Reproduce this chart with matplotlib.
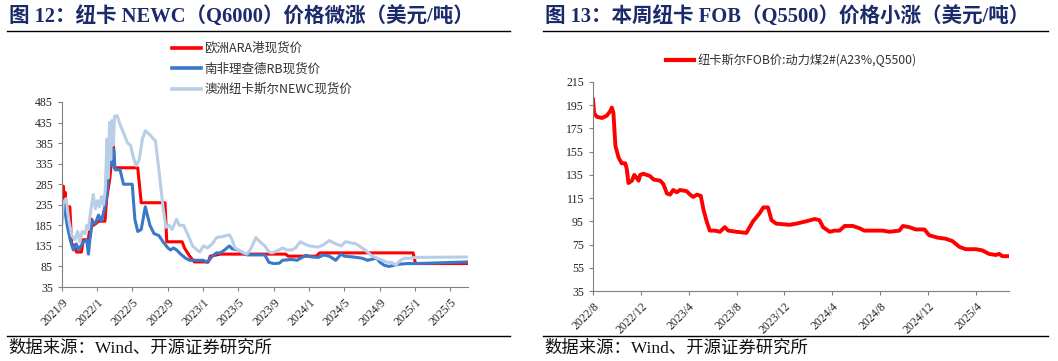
import matplotlib
matplotlib.use("Agg")
import matplotlib.pyplot as plt
import matplotlib.dates as mdates
import pandas as pd
from matplotlib.lines import Line2D

CJK = ['Noto Sans CJK SC', 'DejaVu Sans']
SERIF_CJK = ['Liberation Serif', 'Noto Sans CJK SC', 'DejaVu Sans']
SERIF = ['Liberation Serif', 'DejaVu Serif']
NAVY = '#1B2A6B'

# ---------------- Left chart data ----------------
left_title = "图 12：纽卡 NEWC（Q6000）价格微涨（美元/吨）"
left_labels = ["欧洲ARA港现货价", "南非理查德RB现货价", "澳洲纽卡斯尔NEWC现货价"]
left_colors = ["#FF0000", "#3A78C8", "#B8CDE6"]

ara_dates = ["2021-09-01", "2021-09-06", "2021-09-08", "2021-09-12", "2021-09-15", "2021-09-28",
             "2021-10-04", "2021-10-15", "2021-10-21", "2021-11-07", "2021-11-13", "2021-11-30",
             "2021-12-06", "2021-12-12", "2021-12-18", "2021-12-28", "2022-01-05", "2022-01-27",
             "2022-02-02", "2022-02-13", "2022-02-25", "2022-03-01", "2022-05-20", "2022-06-01",
             "2022-08-22", "2022-08-28", "2022-10-20", "2022-10-28", "2022-11-15", "2022-12-01",
             "2023-01-18", "2023-01-25", "2023-03-01", "2023-10-12", "2023-10-20", "2024-01-25",
             "2024-02-06", "2024-12-24", "2025-01-01", "2025-07-01"]
ara_values = [280, 280, 250, 265, 230, 230,
              140, 135, 120, 120, 150, 150,
              175, 200, 185, 190, 195, 195,
              250, 300, 385, 325, 325, 240,
              240, 145, 145, 130, 110, 96,
              96, 110, 115, 115, 110, 110,
              118, 118, 92, 92]

rb_dates = ["2021-09-01", "2021-09-05", "2021-09-10", "2021-09-20", "2021-10-01", "2021-10-10",
            "2021-10-20", "2021-10-28", "2021-11-05", "2021-11-15", "2021-11-25", "2021-12-01",
            "2021-12-06", "2021-12-15", "2021-12-25", "2022-01-05", "2022-01-15", "2022-01-25",
            "2022-02-01", "2022-02-10", "2022-02-18", "2022-02-22", "2022-02-26", "2022-03-03",
            "2022-03-20", "2022-04-01", "2022-05-01", "2022-05-10", "2022-05-20", "2022-06-01",
            "2022-06-15", "2022-07-01", "2022-07-15", "2022-08-01", "2022-08-15", "2022-09-01",
            "2022-09-10", "2022-09-20", "2022-10-01", "2022-10-15", "2022-11-01", "2022-11-15",
            "2022-12-01", "2023-01-01", "2023-01-15", "2023-02-01", "2023-02-15", "2023-03-01",
            "2023-03-15", "2023-04-01", "2023-04-10", "2023-05-01", "2023-05-15", "2023-06-01",
            "2023-07-01", "2023-08-01", "2023-08-15", "2023-09-01", "2023-09-20", "2023-10-01",
            "2023-11-01", "2023-11-20", "2023-12-10", "2023-12-20", "2024-01-10", "2024-02-01",
            "2024-02-20", "2024-03-10", "2024-04-01", "2024-04-20", "2024-05-01", "2024-06-01",
            "2024-07-01", "2024-07-20", "2024-08-01", "2024-08-20", "2024-09-01", "2024-09-15",
            "2024-10-01", "2024-10-15", "2024-11-01", "2024-12-01", "2025-01-01", "2025-07-01"]
rb_values = [200, 235, 225, 180, 145, 125,
             140, 125, 135, 145, 150, 115,
             150, 195, 190, 210, 195, 225,
             250, 320, 365, 330, 370, 320,
             320, 285, 285, 200, 170, 175,
             230, 185, 165, 160, 145, 130,
             125, 130, 125, 115, 105, 100,
             100, 100, 95, 110, 118, 118,
             125, 135, 128, 125, 118, 113,
             113, 113, 95, 92, 93, 100,
             102, 100, 108, 112, 108, 107,
             113, 110, 100, 115, 110, 108,
             105, 100, 102, 105, 95, 88,
             85, 87, 90, 92, 92, 96]

newc_dates = ["2021-09-01", "2021-09-05", "2021-09-15", "2021-09-25", "2021-10-05", "2021-10-15",
              "2021-10-25", "2021-11-01", "2021-11-10", "2021-11-20", "2021-11-25", "2021-12-01",
              "2021-12-05", "2021-12-12", "2021-12-18", "2021-12-25", "2022-01-01", "2022-01-08",
              "2022-01-15", "2022-01-22", "2022-01-28", "2022-02-03", "2022-02-07", "2022-02-12",
              "2022-02-16", "2022-02-20", "2022-02-25", "2022-03-01", "2022-03-10", "2022-03-20",
              "2022-04-01", "2022-04-15", "2022-04-25", "2022-05-05", "2022-05-15", "2022-05-25",
              "2022-06-05", "2022-06-15", "2022-07-01", "2022-07-20", "2022-08-01", "2022-08-15",
              "2022-08-25", "2022-09-05", "2022-09-15", "2022-10-01", "2022-10-10", "2022-10-25",
              "2022-11-10", "2022-11-25", "2022-12-10", "2022-12-20", "2023-01-01", "2023-01-15",
              "2023-02-01", "2023-02-15", "2023-03-10", "2023-04-01", "2023-04-10", "2023-04-20",
              "2023-05-01", "2023-05-20", "2023-06-01", "2023-06-15", "2023-07-01", "2023-07-15",
              "2023-08-01", "2023-08-15", "2023-08-25", "2023-09-10", "2023-10-01", "2023-10-15",
              "2023-11-01", "2023-11-15", "2023-12-01", "2023-12-15", "2024-01-01", "2024-02-01",
              "2024-02-20", "2024-03-10", "2024-04-01", "2024-04-20", "2024-05-05", "2024-05-20",
              "2024-06-10", "2024-07-01", "2024-07-20", "2024-08-01", "2024-08-20", "2024-09-10",
              "2024-09-25", "2024-10-10", "2024-10-25", "2024-11-10", "2024-11-25", "2024-12-15",
              "2025-01-01", "2025-07-01"]
newc_values = [190, 240, 250, 195, 160, 150,
               170, 145, 170, 165, 185, 175,
               200, 235, 260, 225, 245, 230,
               255, 235, 270, 395, 300, 435,
               345, 440, 380, 450, 452, 430,
               410, 385, 380, 350, 330, 345,
               395, 415, 405, 390, 320, 230,
               180, 185, 175, 200, 185, 185,
               160, 135, 125, 120, 135, 130,
               140, 155, 158, 162, 150, 130,
               125, 118, 115, 130, 155, 145,
               135, 120, 118, 122, 130, 125,
               125, 130, 145, 140, 135, 132,
               138, 148, 140, 135, 145, 143,
               140, 130, 120, 112, 105, 100,
               95, 95, 88, 100, 105, 105,
               107, 108]

left_yticks = [35, 85, 135, 185, 235, 285, 335, 385, 435, 485]

# ---------------- Right chart data ----------------
right_title = "图 13：本周纽卡 FOB（Q5500）价格小涨（美元/吨）"
right_label = "纽卡斯尔FOB价:动力煤2#(A23%,Q5500)"
fob_dates = ["2022-08-01", "2022-08-04", "2022-08-11", "2022-08-24", "2022-09-05", "2022-09-14",
             "2022-09-18", "2022-09-22", "2022-09-27", "2022-10-05", "2022-10-13", "2022-10-22",
             "2022-10-26", "2022-10-30", "2022-11-08", "2022-11-14", "2022-11-21", "2022-11-25",
             "2022-11-29", "2022-12-07", "2022-12-24", "2023-01-02", "2023-01-19", "2023-01-27",
             "2023-02-05", "2023-02-13", "2023-02-21", "2023-03-02", "2023-03-10", "2023-03-27",
             "2023-04-05", "2023-04-13", "2023-04-22", "2023-05-02", "2023-05-09", "2023-05-17",
             "2023-05-25", "2023-06-07", "2023-06-20", "2023-07-02", "2023-07-11", "2023-08-01",
             "2023-08-26", "2023-09-12", "2023-09-29", "2023-10-08", "2023-10-20", "2023-10-29",
             "2023-11-10", "2023-12-14", "2023-12-31", "2024-01-25", "2024-02-16", "2024-02-28",
             "2024-03-08", "2024-03-25", "2024-04-06", "2024-04-19", "2024-05-02", "2024-05-23",
             "2024-06-09", "2024-06-21", "2024-08-07", "2024-08-24", "2024-09-18", "2024-09-27",
             "2024-10-13", "2024-10-30", "2024-11-21", "2024-12-03", "2024-12-24", "2025-01-14",
             "2025-01-31", "2025-02-18", "2025-03-06", "2025-04-01", "2025-04-17", "2025-05-04",
             "2025-05-21", "2025-05-30", "2025-06-07", "2025-06-22"]
fob_values = [200, 188, 185, 184, 186, 190,
              193, 188, 160, 150, 145, 145,
              140, 128, 130, 135, 132, 130,
              135, 136, 134, 131, 130, 127,
              119, 118, 122, 120, 122, 121,
              118, 116, 118, 117, 105, 95,
              87, 87, 86, 90, 87, 86,
              85, 95, 102, 107, 107, 96,
              93, 92, 93, 95, 97, 96,
              90, 86, 87, 87, 91, 91,
              89, 87, 87, 86, 87, 91,
              90, 88, 88, 83, 81, 80,
              78, 73, 71, 71, 70, 67,
              66, 67, 65, 65]
right_yticks = [35, 55, 75, 95, 115, 135, 155, 175, 195, 215]

W, H = 1058, 361
fig = plt.figure(figsize=(W / 100, H / 100), dpi=100)


def fx(px):
    return px / W


def fy(py):
    return 1 - py / H


def style_axes(ax):
    for s in ["top", "right"]:
        ax.spines[s].set_visible(False)
    for s in ["left", "bottom"]:
        ax.spines[s].set_color("#808080")
        ax.spines[s].set_linewidth(0.8)
    ax.tick_params(axis="both", colors="#808080", length=3, width=0.8, direction="out",
                   labelcolor="#222222")
    for lab in ax.get_yticklabels():
        lab.set_fontfamily(SERIF)
        lab.set_fontsize(8.5)
    for lab in ax.get_xticklabels():
        lab.set_fontfamily(SERIF)
        lab.set_fontsize(8.5)
        lab.set_rotation(45)
        lab.set_ha("right")
        lab.set_rotation_mode("anchor")


# ---------------- Left axes ----------------
axL = fig.add_axes([fx(62), fy(287), fx(468 - 62), (287 - 102) / H])
series = [(ara_dates, ara_values), (rb_dates, rb_values), (newc_dates, newc_values)]
for (d, v), c, lab in zip(series, left_colors, left_labels):
    axL.plot(pd.to_datetime(d), v, color=c, lw=2.2, label=lab, solid_joinstyle="round")
axL.set_ylim(35, 485)
axL.set_yticks(left_yticks)
axL.set_xlim(pd.Timestamp("2021-09-01"), pd.Timestamp("2025-07-01"))
axL.xaxis.set_major_locator(mdates.MonthLocator(bymonth=[1, 5, 9]))
axL.xaxis.set_major_formatter(mdates.DateFormatter("%Y/%-m"))
style_axes(axL)
legL = axL.legend(loc="upper left", bbox_to_anchor=(fx(172), fy(42)), bbox_transform=fig.transFigure,
                  frameon=False, prop={"family": CJK, "size": 9}, handlelength=2.3,
                  handletextpad=0.3, labelspacing=0.6, borderpad=0, borderaxespad=0)
for t in legL.get_texts():
    t.set_color("#333333")
for l in legL.get_lines():
    l.set_linewidth(2.6)

# ---------------- Right axes ----------------
axR = fig.add_axes([fx(593), fy(291), fx(1009 - 593), (291 - 82) / H])
axR.plot(pd.to_datetime(fob_dates), fob_values, color="#FF0000", lw=2.8, label=right_label,
         solid_joinstyle="round")
axR.set_ylim(35, 215)
axR.set_yticks(right_yticks)
axR.set_xlim(pd.Timestamp("2022-08-01"), pd.Timestamp("2025-06-24"))
axR.xaxis.set_major_locator(mdates.MonthLocator(bymonth=[4, 8, 12]))
axR.xaxis.set_major_formatter(mdates.DateFormatter("%Y/%-m"))
style_axes(axR)
legR = axR.legend(loc="center", bbox_to_anchor=(fx(791), fy(60)), bbox_transform=fig.transFigure,
                  frameon=False, prop={"family": CJK, "size": 8.8}, handlelength=2.3,
                  handletextpad=0.3, borderpad=0, borderaxespad=0)
for t in legR.get_texts():
    t.set_color("#333333")
for l in legR.get_lines():
    l.set_linewidth(3)

# ---------------- Titles, rules, sources ----------------
fig.text(fx(9), fy(17), left_title, family=SERIF_CJK, weight="bold", size=14.8, color=NAVY, va="center")
fig.text(fx(545), fy(17), right_title, family=SERIF_CJK, weight="bold", size=14.8, color=NAVY, va="center")
for x0, x1 in [(7, 510), (543, 1048)]:
    fig.add_artist(Line2D([fx(x0), fx(x1)], [fy(31), fy(31)], color="black", lw=1.0))
    fig.add_artist(Line2D([fx(x0), fx(x1)], [fy(336), fy(336)], color="black", lw=1.0))
source = "数据来源：Wind、开源证券研究所"
fig.text(fx(8), fy(349), source, family=SERIF_CJK, size=12.5, color="#111111", va="center")
fig.text(fx(544), fy(349), source, family=SERIF_CJK, size=12.5, color="#111111", va="center")

fig.savefig("out.png", dpi=100)
